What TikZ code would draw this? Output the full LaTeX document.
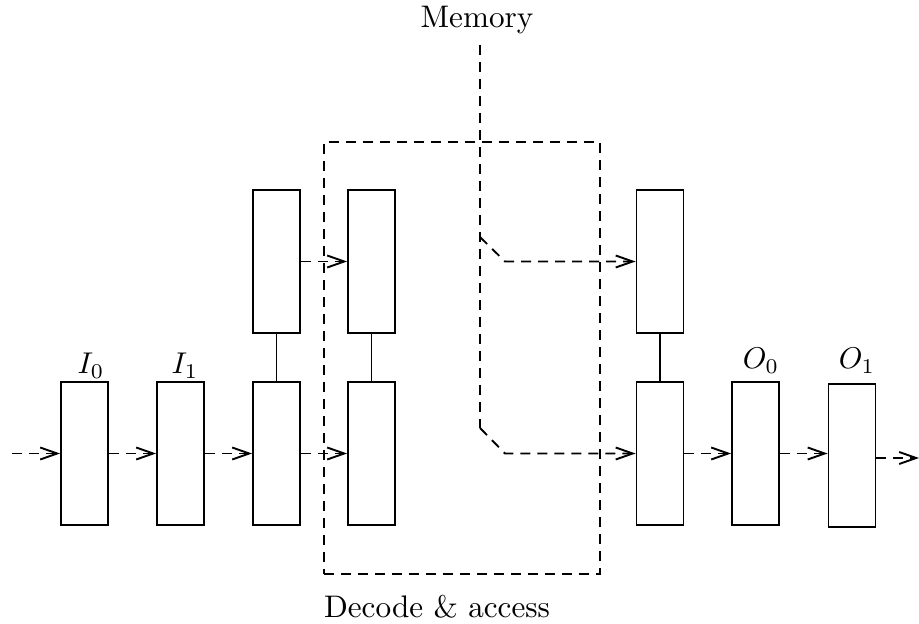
\documentclass[tikz,border=0pt]{standalone}
\usetikzlibrary{arrows.meta}
\begin{document}
\begin{tikzpicture}[x=0.5pt,y=-0.5pt,
  line width=0.95pt,
  stage/.style={draw,rectangle,inner sep=0pt,minimum width=23.5pt,minimum height=71.5pt},
  flow/.style={dash pattern=on 5pt off 3.5pt,-{Straight Barb[length=8.5pt,width=6pt,line width=0.95pt]}},
  region/.style={draw,dash pattern=on 5pt off 3.5pt,rectangle,inner sep=0pt,minimum width=138pt,minimum height=216pt},
  lbl/.style={inner sep=0pt},
  tag/.style={inner sep=0pt}]
\useasboundingbox (0,0) rectangle (919,624);

% decode & access region
\node[region] (dec) at (462,358) {};
\node[lbl] (declbl) at (437,607) {\scalebox{1.56}{Decode \& access}};
\node[lbl] (mem) at (477,20) {\scalebox{1.56}{Memory}};

% pipeline stages
\node[stage] (i0) at (84.5,453.5) {};
\node[stage] (i1) at (180.5,453.5) {};
\node[stage] (al) at (276.5,453.5) {};
\node[stage] (au) at (276.5,261.5) {};
\node[stage] (bl) at (371.5,453.5) {};
\node[stage] (bu) at (371.5,261.5) {};
\node[stage] (cl) at (660,453.5) {};
\node[stage] (cu) at (660,261.5) {};
\node[stage] (o0) at (755.5,453.5) {};
\node[stage] (o1) at (852,455.5) {};

% stage labels
\node[tag] (li0) at (91,366) {\scalebox{1.5}{$I_0$}};
\node[tag] (li1) at (185,366) {\scalebox{1.5}{$I_1$}};
\node[tag] (lo0) at (761,361) {\scalebox{1.5}{$O_0$}};
\node[tag] (lo1) at (857,361) {\scalebox{1.5}{$O_1$}};

% paired stages
\draw (au) -- (al);
\draw (bu) -- (bl);
\draw (cu) -- (cl);

% flow between stages
\coordinate (in) at (12,453.5);
\coordinate (out) at (919,458);
\draw[flow] (in) -- (i0);
\draw[flow] (i0) -- (i1);
\draw[flow] (i1) -- (al);
\draw[flow] (al) -- (bl);
\draw[flow] (au) -- (bu);
\draw[flow] (cl) -- (o0);
\draw[flow] (o0) -- (o0 -| o1.west);
\draw[flow] (o1.east |- out) -- (out);

% memory access paths
\coordinate (m0) at (480,45);
\coordinate (m1) at (480,237);
\coordinate (m2) at (480,428);
\coordinate (k1) at (505,261.5);
\coordinate (k2) at (505,453.5);
\draw[dash pattern=on 5pt off 3.5pt] (m0) -- (m2);
\draw[flow] (m1) -- (k1) -- (cu);
\draw[flow] (m2) -- (k2) -- (cl);
\end{tikzpicture}
\end{document}
